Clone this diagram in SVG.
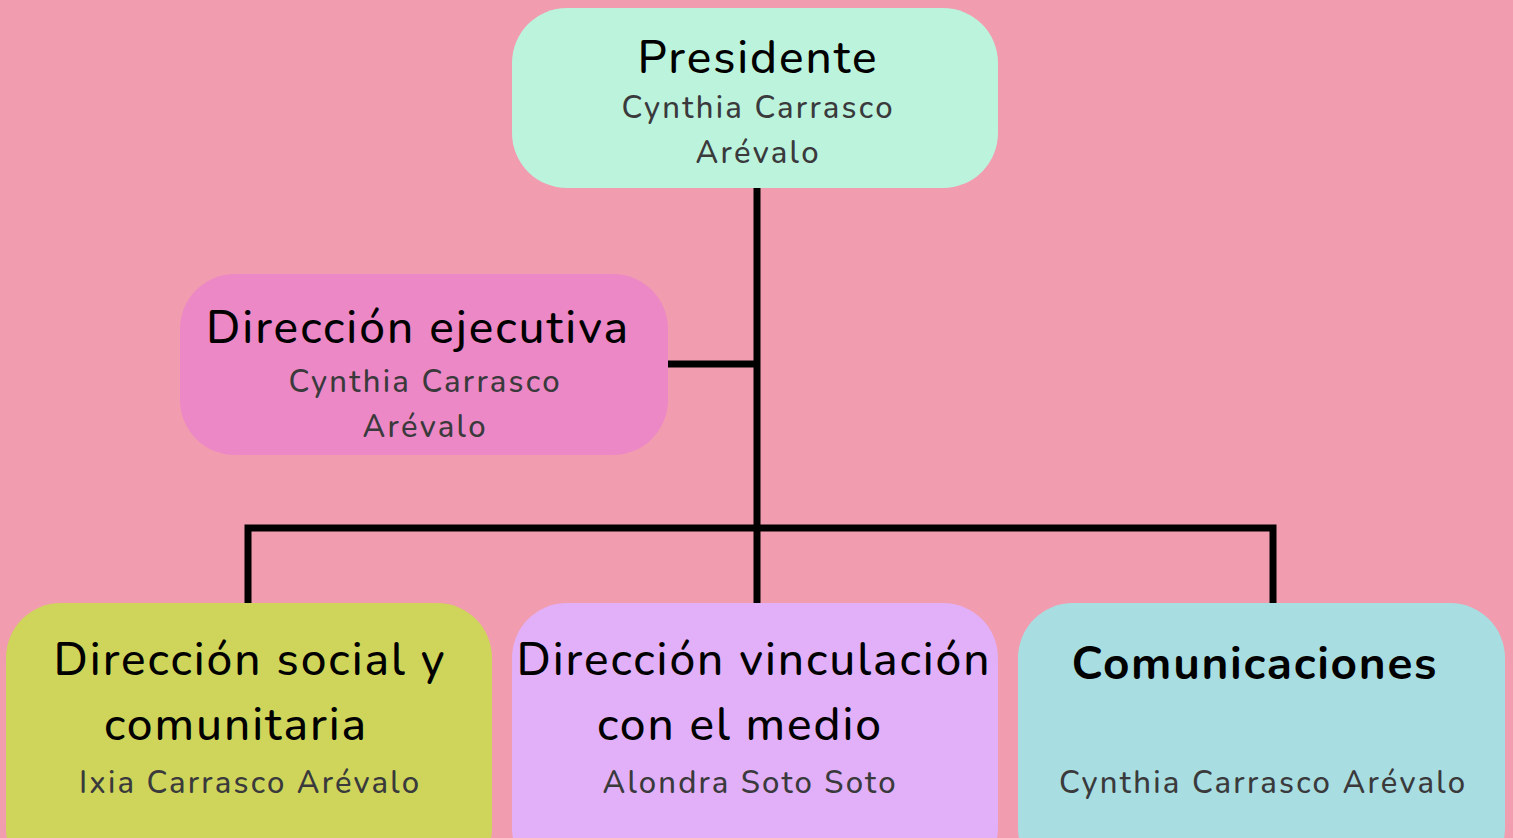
<svg xmlns="http://www.w3.org/2000/svg" width="1513" height="838" viewBox="0 0 1513 838">
<style>
.t{font-family:"Nunito","Open Sans","Noto Sans",sans-serif;font-size:46px;font-weight:500;fill:#000;text-anchor:middle}
.b{font-weight:bold}
.s{font-family:"Nunito","Open Sans","Noto Sans",sans-serif;font-size:31px;font-weight:500;fill:#3a3a3c;text-anchor:middle}
.c{stroke:#000;stroke-width:7;fill:none}
</style>
<rect width="1513" height="838" fill="#f19caf"/>
<g id="connectors">
<line class="c" x1="757" y1="188" x2="757" y2="604"/>
<line class="c" x1="668" y1="364" x2="757" y2="364"/>
<polyline class="c" points="248,604 248,528 1273,528 1273,604"/>
</g>
<g id="presidente">
<rect x="512" y="8" width="486" height="180" rx="55" fill="#bcf3dd"/>
<text class="t" x="757" y="73" textLength="239">Presidente</text>
<text class="s" x="757" y="118" textLength="271">Cynthia Carrasco</text>
<text class="s" x="757" y="163" textLength="123">Arévalo</text>
</g>
<g id="direccion-ejecutiva">
<rect x="180" y="274" width="488" height="181" rx="55" fill="#ec88c5"/>
<text class="t" x="417" y="343" textLength="422">Dirección ejecutiva</text>
<text class="s" x="424" y="392" textLength="271">Cynthia Carrasco</text>
<text class="s" x="424" y="437" textLength="123">Arévalo</text>
</g>
<g id="direccion-social">
<rect x="6" y="603" width="486" height="280" rx="55" fill="#ced55a"/>
<text class="t" x="249" y="675" textLength="391">Dirección social y</text>
<text class="t" x="235" y="740" textLength="262">comunitaria</text>
<text class="s" x="249" y="793" textLength="340">Ixia Carrasco Arévalo</text>
</g>
<g id="direccion-vinculacion">
<rect x="512" y="603" width="486" height="280" rx="55" fill="#e2b0f8"/>
<text class="t" x="753" y="675" textLength="473">Dirección vinculación</text>
<text class="t" x="739" y="740" textLength="284">con el medio</text>
<text class="s" x="749" y="793" textLength="293">Alondra Soto Soto</text>
</g>
<g id="comunicaciones">
<rect x="1018" y="603" width="487" height="280" rx="55" fill="#a8dde1"/>
<text class="t b" x="1254" y="679" textLength="365">Comunicaciones</text>
<text class="s" x="1262" y="793" textLength="406">Cynthia Carrasco Arévalo</text>
</g>
</svg>
